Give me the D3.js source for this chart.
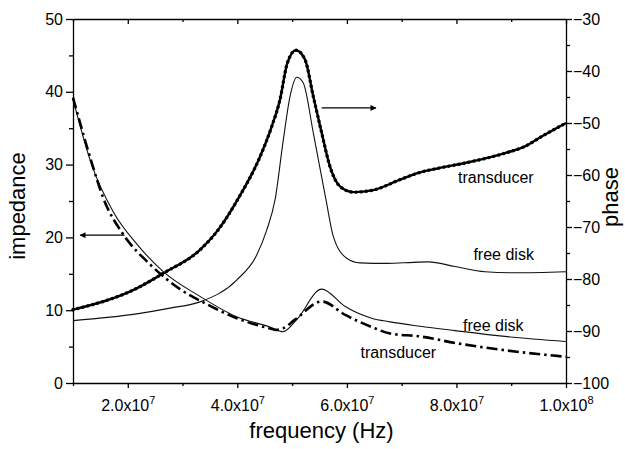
<!DOCTYPE html>
<html>
<head>
<meta charset="utf-8">
<script src="https://cdn.jsdelivr.net/npm/d3@7"></script>
<style>
  body { margin: 0; background: #fff; }
  svg { display: block; font-family: "Liberation Sans", Arial, sans-serif; }
  .axis path, .axis line { stroke: #000; stroke-width: 1.3; }
  .axis text { font-size: 16px; fill: #000; }
</style>
</head>
<body>
<svg id="chart" width="625" height="449"></svg>
<script>
"use strict";

// transducer phase (right axis)
let freq_tp = [1.0e7, 2.163e7, 2.648e7, 3.318e7, 3.647e7, 4.018e7, 4.414e7, 4.627e7, 4.779e7, 4.912e7, 5.071e7, 5.235e7, 5.387e7, 5.540e7, 5.692e7, 5.874e7, 6.117e7, 6.482e7, 6.969e7, 7.335e7, 7.669e7, 8.156e7, 8.886e7, 9.251e7, 9.556e7, 1.0e8];
let phase_t = [-85.9, -81.8, -78.9, -74.4, -70.6, -64.5, -56.5, -50.7, -45.5, -38.5, -36.0, -37.8, -44.9, -51.9, -58.4, -62.2, -63.3, -62.9, -60.9, -59.5, -58.7, -57.7, -55.8, -54.5, -52.6, -50.0];

// free disk phase (right axis)
let freq_fp = [1.0e7, 2.163e7, 2.771e7, 3.318e7, 3.988e7, 4.354e7, 4.536e7, 4.688e7, 4.840e7, 4.962e7, 5.084e7, 5.204e7, 5.387e7, 5.619e7, 5.752e7, 5.997e7, 6.239e7, 6.726e7, 7.212e7, 7.486e7, 7.974e7, 8.521e7, 9.069e7, 1.0e8];
let phase_f = [-88.0, -86.7, -85.6, -84.4, -80.2, -75.4, -70.6, -64.8, -53.2, -44.9, -41.2, -42.3, -51.9, -64.8, -71.8, -76.0, -76.9, -77.0, -76.8, -76.7, -77.6, -78.6, -78.8, -78.6];

// free disk impedance (left axis)
let freq_fi = [1.0e7, 1.34e7, 1.736e7, 2.163e7, 2.648e7, 3.318e7, 3.988e7, 4.596e7, 4.834e7, 5.084e7, 5.540e7, 5.970e7, 6.450e7, 6.787e7, 7.335e7, 7.974e7, 8.886e7, 1.0e8];
let imp_f = [39.0, 30.0, 23.5, 19.1, 15.3, 11.9, 9.1, 7.7, 7.05, 8.7, 12.9, 10.5, 8.9, 8.4, 7.8, 7.2, 6.4, 5.7];

// transducer impedance (left axis)
let freq_ti = [1.0e7, 1.34e7, 1.553e7, 1.918e7, 2.406e7, 2.953e7, 3.373e7, 3.988e7, 4.596e7, 4.719e7, 4.834e7, 5.053e7, 5.540e7, 5.970e7, 6.450e7, 6.787e7, 7.335e7, 7.974e7, 8.886e7, 1.0e8];
let imp_t = [39.2, 30.3, 25.4, 20.4, 16.3, 12.9, 11.1, 8.9, 7.5, 7.3, 7.5, 8.7, 11.2, 9.35, 7.7, 6.8, 6.4, 5.5, 4.5, 3.6];

let x_ticks = [2e7, 4e7, 6e7, 8e7, 1e8];
let x_minor = [1e7, 3e7, 5e7, 7e7, 9e7];
let x_tick_labels = [["2.0x10", "7"], ["4.0x10", "7"], ["6.0x10", "7"], ["8.0x10", "7"], ["1.0x10", "8"]];
let left_ticks = [0, 10, 20, 30, 40, 50];
let left_minor = [5, 15, 25, 35, 45];
let right_ticks = [-100, -90, -80, -70, -60, -50, -40, -30];
let right_minor = [-95, -85, -75, -65, -55, -45, -35];

let margin = { left: 73, right: 59, top: 19, bottom: 66 };
let width = 625, height = 449;

let svg = d3.select("#chart");

let x = d3.scaleLinear().domain([1e7, 1e8]).range([margin.left, width - margin.right]);
let y_imp = d3.scaleLinear().domain([0, 50]).range([height - margin.bottom, margin.top]);
let y_ph = d3.scaleLinear().domain([-100, -30]).range([height - margin.bottom, margin.top]);

let x0 = margin.left, x1 = width - margin.right;
let y0 = height - margin.bottom, y1 = margin.top;

// axes: major + minor ticks
function add_axis(axis_fn, scale, ticks, minor, transform, size_major, size_minor, fmt) {
    let g_minor = svg.append("g").attr("class", "axis").attr("transform", transform)
        .call(axis_fn(scale).tickValues(minor).tickSize(size_minor).tickSizeOuter(0).tickFormat(""));
    g_minor.select(".domain").remove();
    let g = svg.append("g").attr("class", "axis").attr("transform", transform)
        .call(axis_fn(scale).tickValues(ticks).tickSize(size_major).tickSizeOuter(0).tickPadding(3).tickFormat(fmt));
    return g;
}

let gx = add_axis(d3.axisBottom, x, x_ticks, x_minor, `translate(0,${y0})`, 5, 3, "");
gx.selectAll(".tick text").each(function(d, i) {
    let t = d3.select(this).attr("dy", null).attr("y", 28);
    t.append("tspan").text(x_tick_labels[i][0]);
    t.append("tspan").attr("font-size", "11px").attr("dy", "-7").text(x_tick_labels[i][1]);
});

let gt = add_axis(d3.axisTop, x, x_ticks, x_minor, `translate(0,${y1})`, -5, -3, "");

let gl = add_axis(d3.axisLeft, y_imp, left_ticks, left_minor, `translate(${x0},0)`, 7, 4, d3.format("d"));
gl.selectAll(".tick text").attr("x", -10);

let gr = add_axis(d3.axisRight, y_ph, right_ticks, right_minor, `translate(${x1},0)`, 6, 4, d3.format("d"));
gr.selectAll(".tick text").attr("x", 7);

// axis titles
svg.append("text").attr("transform", `translate(25,${(y0 + y1) / 2 + 5}) rotate(-90)`)
    .attr("text-anchor", "middle").attr("font-size", "22px").text("impedance");
svg.append("text").attr("transform", `translate(618,${(y0 + y1) / 2 - 4}) rotate(-90)`)
    .attr("text-anchor", "middle").attr("font-size", "22px").text("phase");
svg.append("text").attr("x", (x0 + x1) / 2 + 2).attr("y", 438)
    .attr("text-anchor", "middle").attr("font-size", "22px").text("frequency (Hz)");

// curves
let line_ph = d3.line().x(d => x(d[0])).y(d => y_ph(d[1])).curve(d3.curveMonotoneX);
let line_imp = d3.line().x(d => x(d[0])).y(d => y_imp(d[1])).curve(d3.curveMonotoneX);

svg.append("path").datum(d3.zip(freq_fp, phase_f)).attr("d", line_ph)
    .attr("fill", "none").attr("stroke", "#111").attr("stroke-width", 1.1);
svg.append("path").datum(d3.zip(freq_fi, imp_f)).attr("d", line_imp)
    .attr("fill", "none").attr("stroke", "#111").attr("stroke-width", 1.1);
svg.append("path").datum(d3.zip(freq_ti, imp_t)).attr("d", line_imp)
    .attr("fill", "none").attr("stroke", "#000").attr("stroke-width", 2.6)
    .attr("stroke-dasharray", "11,4,2.5,4");
svg.append("path").datum(d3.zip(freq_tp, phase_t)).attr("d", line_ph)
    .attr("fill", "none").attr("stroke", "#000").attr("stroke-width", 2.4);
svg.append("path").datum(d3.zip(freq_tp, phase_t)).attr("d", line_ph)
    .attr("fill", "none").attr("stroke", "#000").attr("stroke-width", 3.4)
    .attr("stroke-linecap", "round").attr("stroke-dasharray", "0.1,5");

// arrows
let defs = svg.append("defs");
defs.append("marker").attr("id", "head").attr("viewBox", "0 0 10 10")
    .attr("refX", 9).attr("refY", 5).attr("markerWidth", 9).attr("markerHeight", 6)
    .attr("orient", "auto-start-reverse").attr("markerUnits", "userSpaceOnUse")
    .append("path").attr("d", "M0,0 L10,5 L0,10 Z").attr("fill", "#000");

svg.append("line")
    .attr("x1", x(1.94e7)).attr("x2", x(1.13e7)).attr("y1", y_imp(20.3)).attr("y2", y_imp(20.3))
    .attr("stroke", "#000").attr("stroke-width", 1.2).attr("marker-end", "url(#head)");
svg.append("line")
    .attr("x1", x(5.54e7)).attr("x2", x(6.53e7)).attr("y1", y_ph(-47.1)).attr("y2", y_ph(-47.1))
    .attr("stroke", "#000").attr("stroke-width", 1.2).attr("marker-end", "url(#head)");

// curve labels
let labels = [
    { text: "transducer", f: 8.03e7, v: -61.5 },
    { text: "free disk", f: 8.31e7, v: -76.3 },
    { text: "free disk", f: 8.12e7, v: -90.0 },
    { text: "transducer", f: 6.25e7, v: -95.2 }
];
svg.selectAll(".lbl").data(labels).enter().append("text").attr("class", "lbl")
    .attr("x", d => x(d.f)).attr("y", d => y_ph(d.v))
    .attr("font-size", "16px").text(d => d.text);
</script>
</body>
</html>
